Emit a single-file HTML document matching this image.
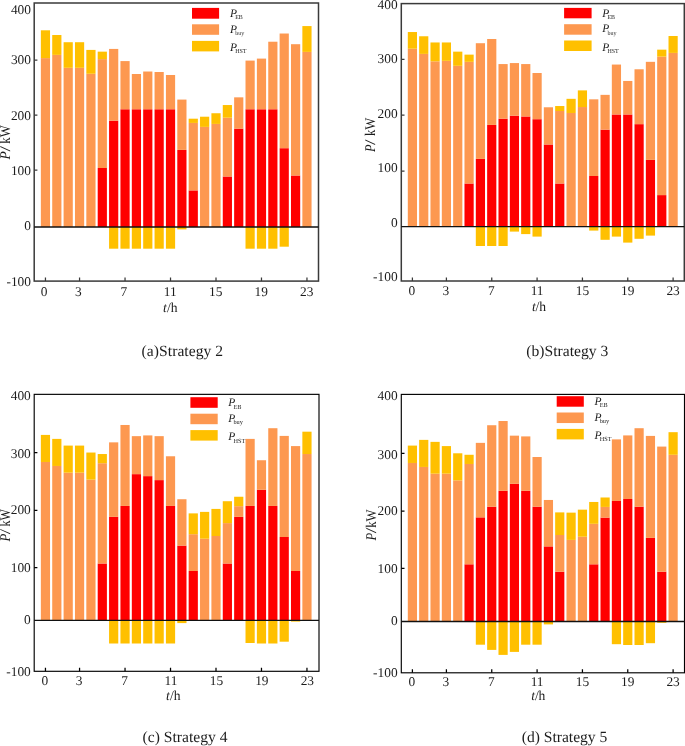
<!DOCTYPE html>
<html><head><meta charset="utf-8"><title>Strategies</title>
<style>
html,body{margin:0;padding:0;background:#fff;}
body{width:685px;height:746px;overflow:hidden;font-family:"Liberation Serif",serif;}
svg{display:block;}
text{font-family:"Liberation Serif",serif;fill:#1c1c1c;text-rendering:geometricPrecision;}
.tk{font-size:13.4px;}
.ax{font-size:13.6px;}
.pk{font-size:14.8px;}
.cap{font-size:15.6px;}
.lg{font-size:11.5px;}
</style></head><body>
<svg width="685" height="746" viewBox="0 0 685 746">
<rect width="685" height="746" fill="#fff"/>
<!-- chart a -->
<g>
<rect x="40.85" y="58.11" width="9.2" height="168.89" fill="#FD9850"/>
<rect x="40.85" y="30.3" width="9.2" height="27.81" fill="#FFC000"/>
<rect x="52.22" y="54.88" width="9.2" height="172.12" fill="#FD9850"/>
<rect x="52.22" y="35.01" width="9.2" height="19.87" fill="#FFC000"/>
<rect x="63.59" y="67.79" width="9.2" height="159.21" fill="#FD9850"/>
<rect x="63.59" y="42.22" width="9.2" height="25.58" fill="#FFC000"/>
<rect x="74.96" y="67.79" width="9.2" height="159.21" fill="#FD9850"/>
<rect x="74.96" y="42.22" width="9.2" height="25.58" fill="#FFC000"/>
<rect x="86.33" y="73.75" width="9.2" height="153.25" fill="#FD9850"/>
<rect x="86.33" y="49.91" width="9.2" height="23.84" fill="#FFC000"/>
<rect x="97.7" y="168" width="9.2" height="59" fill="#FF0000"/>
<rect x="97.7" y="59.1" width="9.2" height="108.9" fill="#FD9850"/>
<rect x="97.7" y="51.65" width="9.2" height="7.45" fill="#FFC000"/>
<rect x="109.07" y="120.69" width="9.2" height="106.31" fill="#FF0000"/>
<rect x="109.07" y="48.92" width="9.2" height="71.77" fill="#FD9850"/>
<rect x="109.07" y="227" width="9.2" height="21.7" fill="#FFC000"/>
<rect x="120.44" y="109.26" width="9.2" height="117.74" fill="#FF0000"/>
<rect x="120.44" y="61.09" width="9.2" height="48.17" fill="#FD9850"/>
<rect x="120.44" y="227" width="9.2" height="21.7" fill="#FFC000"/>
<rect x="131.81" y="109.26" width="9.2" height="117.74" fill="#FF0000"/>
<rect x="131.81" y="74" width="9.2" height="35.26" fill="#FD9850"/>
<rect x="131.81" y="227" width="9.2" height="21.7" fill="#FFC000"/>
<rect x="143.18" y="109.26" width="9.2" height="117.74" fill="#FF0000"/>
<rect x="143.18" y="71.52" width="9.2" height="37.75" fill="#FD9850"/>
<rect x="143.18" y="227" width="9.2" height="21.7" fill="#FFC000"/>
<rect x="154.55" y="109.26" width="9.2" height="117.74" fill="#FF0000"/>
<rect x="154.55" y="72.01" width="9.2" height="37.25" fill="#FD9850"/>
<rect x="154.55" y="227" width="9.2" height="21.7" fill="#FFC000"/>
<rect x="165.92" y="109.26" width="9.2" height="117.74" fill="#FF0000"/>
<rect x="165.92" y="74.99" width="9.2" height="34.27" fill="#FD9850"/>
<rect x="165.92" y="227" width="9.2" height="21.7" fill="#FFC000"/>
<rect x="177.29" y="149.9" width="9.2" height="77.1" fill="#FF0000"/>
<rect x="177.29" y="99.58" width="9.2" height="50.32" fill="#FD9850"/>
<rect x="177.29" y="227" width="9.2" height="2.4" fill="#FFC000"/>
<rect x="188.66" y="190.4" width="9.2" height="36.6" fill="#FF0000"/>
<rect x="188.66" y="122.92" width="9.2" height="67.48" fill="#FD9850"/>
<rect x="188.66" y="118.7" width="9.2" height="4.22" fill="#FFC000"/>
<rect x="200.03" y="126.89" width="9.2" height="100.11" fill="#FD9850"/>
<rect x="200.03" y="116.71" width="9.2" height="10.18" fill="#FFC000"/>
<rect x="211.4" y="123.91" width="9.2" height="103.09" fill="#FD9850"/>
<rect x="211.4" y="113.24" width="9.2" height="10.68" fill="#FFC000"/>
<rect x="222.77" y="176.5" width="9.2" height="50.5" fill="#FF0000"/>
<rect x="222.77" y="117.71" width="9.2" height="58.79" fill="#FD9850"/>
<rect x="222.77" y="105.04" width="9.2" height="12.66" fill="#FFC000"/>
<rect x="234.14" y="128.63" width="9.2" height="98.37" fill="#FF0000"/>
<rect x="234.14" y="97.34" width="9.2" height="31.29" fill="#FD9850"/>
<rect x="245.51" y="109.26" width="9.2" height="117.74" fill="#FF0000"/>
<rect x="245.51" y="60.59" width="9.2" height="48.67" fill="#FD9850"/>
<rect x="245.51" y="227" width="9.2" height="21.7" fill="#FFC000"/>
<rect x="256.88" y="109.26" width="9.2" height="117.74" fill="#FF0000"/>
<rect x="256.88" y="58.6" width="9.2" height="50.66" fill="#FD9850"/>
<rect x="256.88" y="227" width="9.2" height="21.7" fill="#FFC000"/>
<rect x="268.25" y="109.26" width="9.2" height="117.74" fill="#FF0000"/>
<rect x="268.25" y="41.72" width="9.2" height="67.54" fill="#FD9850"/>
<rect x="268.25" y="227" width="9.2" height="21.7" fill="#FFC000"/>
<rect x="279.62" y="148.2" width="9.2" height="78.8" fill="#FF0000"/>
<rect x="279.62" y="33.52" width="9.2" height="114.68" fill="#FD9850"/>
<rect x="279.62" y="227" width="9.2" height="19.7" fill="#FFC000"/>
<rect x="290.99" y="175.5" width="9.2" height="51.5" fill="#FF0000"/>
<rect x="290.99" y="44.2" width="9.2" height="131.3" fill="#FD9850"/>
<rect x="302.36" y="51.9" width="9.2" height="175.1" fill="#FD9850"/>
<rect x="302.36" y="26.07" width="9.2" height="25.83" fill="#FFC000"/>
</g>
<path d="M34.2 60h3.2M34.2 115.1h3.2M34.2 170.2h3.2M45.45 281.1v-3.6M79.56 281.1v-3.6M125.04 281.1v-3.6M170.52 281.1v-3.6M216 281.1v-3.6M261.48 281.1v-3.6M306.96 281.1v-3.6" stroke="#3a3a3a" stroke-width="1.25" fill="none"/>
<rect x="34.2" y="3" width="284.3" height="278.1" fill="none" stroke="#3a3a3a" stroke-width="1.5"/>
<line x1="34.2" y1="227" x2="318.5" y2="227" stroke="#111" stroke-width="1.3"/>
<rect x="192" y="7.9" width="27.1" height="10.8" fill="#FF0000"/>
<rect x="192" y="24.3" width="27.1" height="10.5" fill="#FD9850"/>
<rect x="192" y="40.9" width="27.1" height="10.5" fill="#FFC000"/>
<!-- chart b -->
<g>
<rect x="407.8" y="48.67" width="9.2" height="178.03" fill="#FD9850"/>
<rect x="407.8" y="32.03" width="9.2" height="16.64" fill="#FFC000"/>
<rect x="419.13" y="53.89" width="9.2" height="172.81" fill="#FD9850"/>
<rect x="419.13" y="36.26" width="9.2" height="17.63" fill="#FFC000"/>
<rect x="430.47" y="61.34" width="9.2" height="165.36" fill="#FD9850"/>
<rect x="430.47" y="42.46" width="9.2" height="18.87" fill="#FFC000"/>
<rect x="441.81" y="60.84" width="9.2" height="165.86" fill="#FD9850"/>
<rect x="441.81" y="42.46" width="9.2" height="18.38" fill="#FFC000"/>
<rect x="453.14" y="65.81" width="9.2" height="160.89" fill="#FD9850"/>
<rect x="453.14" y="51.65" width="9.2" height="14.15" fill="#FFC000"/>
<rect x="464.48" y="183.5" width="9.2" height="43.2" fill="#FF0000"/>
<rect x="464.48" y="61.83" width="9.2" height="121.67" fill="#FD9850"/>
<rect x="464.48" y="54.63" width="9.2" height="7.2" fill="#FFC000"/>
<rect x="475.81" y="158.9" width="9.2" height="67.8" fill="#FF0000"/>
<rect x="475.81" y="43.21" width="9.2" height="115.69" fill="#FD9850"/>
<rect x="475.81" y="226.7" width="9.2" height="19.3" fill="#FFC000"/>
<rect x="487.14" y="124.91" width="9.2" height="101.79" fill="#FF0000"/>
<rect x="487.14" y="38.99" width="9.2" height="85.92" fill="#FD9850"/>
<rect x="487.14" y="226.7" width="9.2" height="19.3" fill="#FFC000"/>
<rect x="498.48" y="118.7" width="9.2" height="108" fill="#FF0000"/>
<rect x="498.48" y="64.07" width="9.2" height="54.63" fill="#FD9850"/>
<rect x="498.48" y="226.7" width="9.2" height="19.3" fill="#FFC000"/>
<rect x="509.82" y="115.72" width="9.2" height="110.98" fill="#FF0000"/>
<rect x="509.82" y="63.07" width="9.2" height="52.64" fill="#FD9850"/>
<rect x="509.82" y="226.7" width="9.2" height="4.9" fill="#FFC000"/>
<rect x="521.15" y="116.46" width="9.2" height="110.24" fill="#FF0000"/>
<rect x="521.15" y="64.07" width="9.2" height="52.4" fill="#FD9850"/>
<rect x="521.15" y="226.7" width="9.2" height="7.4" fill="#FFC000"/>
<rect x="532.49" y="119.2" width="9.2" height="107.5" fill="#FF0000"/>
<rect x="532.49" y="73.01" width="9.2" height="46.19" fill="#FD9850"/>
<rect x="532.49" y="226.7" width="9.2" height="9.9" fill="#FFC000"/>
<rect x="543.82" y="144.5" width="9.2" height="82.2" fill="#FF0000"/>
<rect x="543.82" y="107.28" width="9.2" height="37.22" fill="#FD9850"/>
<rect x="555.15" y="183.5" width="9.2" height="43.2" fill="#FF0000"/>
<rect x="555.15" y="111" width="9.2" height="72.5" fill="#FD9850"/>
<rect x="555.15" y="106.03" width="9.2" height="4.97" fill="#FFC000"/>
<rect x="566.49" y="112.99" width="9.2" height="113.71" fill="#FD9850"/>
<rect x="566.49" y="98.83" width="9.2" height="14.15" fill="#FFC000"/>
<rect x="577.83" y="107.03" width="9.2" height="119.67" fill="#FD9850"/>
<rect x="577.83" y="90.39" width="9.2" height="16.64" fill="#FFC000"/>
<rect x="589.16" y="176" width="9.2" height="50.7" fill="#FF0000"/>
<rect x="589.16" y="99.33" width="9.2" height="76.67" fill="#FD9850"/>
<rect x="589.16" y="226.7" width="9.2" height="3.9" fill="#FFC000"/>
<rect x="600.5" y="129.63" width="9.2" height="97.07" fill="#FF0000"/>
<rect x="600.5" y="94.86" width="9.2" height="34.77" fill="#FD9850"/>
<rect x="600.5" y="226.7" width="9.2" height="13.1" fill="#FFC000"/>
<rect x="611.83" y="114.48" width="9.2" height="112.22" fill="#FF0000"/>
<rect x="611.83" y="64.56" width="9.2" height="49.91" fill="#FD9850"/>
<rect x="611.83" y="226.7" width="9.2" height="9.9" fill="#FFC000"/>
<rect x="623.16" y="114.48" width="9.2" height="112.22" fill="#FF0000"/>
<rect x="623.16" y="80.95" width="9.2" height="33.52" fill="#FD9850"/>
<rect x="623.16" y="226.7" width="9.2" height="15.9" fill="#FFC000"/>
<rect x="634.5" y="124.16" width="9.2" height="102.54" fill="#FF0000"/>
<rect x="634.5" y="69.28" width="9.2" height="54.88" fill="#FD9850"/>
<rect x="634.5" y="226.7" width="9.2" height="12.1" fill="#FFC000"/>
<rect x="645.84" y="159.9" width="9.2" height="66.8" fill="#FF0000"/>
<rect x="645.84" y="61.83" width="9.2" height="98.07" fill="#FD9850"/>
<rect x="645.84" y="226.7" width="9.2" height="8.9" fill="#FFC000"/>
<rect x="657.17" y="195.1" width="9.2" height="31.6" fill="#FF0000"/>
<rect x="657.17" y="56.62" width="9.2" height="138.48" fill="#FD9850"/>
<rect x="657.17" y="49.66" width="9.2" height="6.95" fill="#FFC000"/>
<rect x="668.51" y="52.89" width="9.2" height="173.81" fill="#FD9850"/>
<rect x="668.51" y="36.01" width="9.2" height="16.89" fill="#FFC000"/>
</g>
<path d="M401.3 59.4h3.2M401.3 115.2h3.2M401.3 171h3.2M412.4 281v-3.6M446.41 281v-3.6M491.75 281v-3.6M537.09 281v-3.6M582.43 281v-3.6M627.76 281v-3.6M673.11 281v-3.6" stroke="#3a3a3a" stroke-width="1.25" fill="none"/>
<rect x="401.3" y="3.6" width="283" height="277.4" fill="none" stroke="#3a3a3a" stroke-width="1.5"/>
<line x1="401.3" y1="226.7" x2="684.3" y2="226.7" stroke="#111" stroke-width="1.3"/>
<rect x="564.1" y="7.9" width="27.5" height="10.4" fill="#FF0000"/>
<rect x="564.1" y="24.2" width="27.5" height="10.5" fill="#FD9850"/>
<rect x="564.1" y="40.5" width="27.5" height="10.5" fill="#FFC000"/>
<!-- chart c -->
<g>
<rect x="40.85" y="461.98" width="9.2" height="158.42" fill="#FD9850"/>
<rect x="40.85" y="434.91" width="9.2" height="27.07" fill="#FFC000"/>
<rect x="52.22" y="465.95" width="9.2" height="154.45" fill="#FD9850"/>
<rect x="52.22" y="438.89" width="9.2" height="27.07" fill="#FFC000"/>
<rect x="63.59" y="472.66" width="9.2" height="147.74" fill="#FD9850"/>
<rect x="63.59" y="445.59" width="9.2" height="27.07" fill="#FFC000"/>
<rect x="74.96" y="472.66" width="9.2" height="147.74" fill="#FD9850"/>
<rect x="74.96" y="445.59" width="9.2" height="27.07" fill="#FFC000"/>
<rect x="86.33" y="479.61" width="9.2" height="140.79" fill="#FD9850"/>
<rect x="86.33" y="452.54" width="9.2" height="27.07" fill="#FFC000"/>
<rect x="97.7" y="563.5" width="9.2" height="56.9" fill="#FF0000"/>
<rect x="97.7" y="463.22" width="9.2" height="100.28" fill="#FD9850"/>
<rect x="97.7" y="454.03" width="9.2" height="9.19" fill="#FFC000"/>
<rect x="109.07" y="516.86" width="9.2" height="103.54" fill="#FF0000"/>
<rect x="109.07" y="442.36" width="9.2" height="74.5" fill="#FD9850"/>
<rect x="109.07" y="620.4" width="9.2" height="23.1" fill="#FFC000"/>
<rect x="120.44" y="505.93" width="9.2" height="114.47" fill="#FF0000"/>
<rect x="120.44" y="424.98" width="9.2" height="80.95" fill="#FD9850"/>
<rect x="120.44" y="620.4" width="9.2" height="23.1" fill="#FFC000"/>
<rect x="131.81" y="474.15" width="9.2" height="146.25" fill="#FF0000"/>
<rect x="131.81" y="436.15" width="9.2" height="37.99" fill="#FD9850"/>
<rect x="131.81" y="620.4" width="9.2" height="23.1" fill="#FFC000"/>
<rect x="143.18" y="476.13" width="9.2" height="144.27" fill="#FF0000"/>
<rect x="143.18" y="435.41" width="9.2" height="40.73" fill="#FD9850"/>
<rect x="143.18" y="620.4" width="9.2" height="23.1" fill="#FFC000"/>
<rect x="154.55" y="480.11" width="9.2" height="140.29" fill="#FF0000"/>
<rect x="154.55" y="436.15" width="9.2" height="43.95" fill="#FD9850"/>
<rect x="154.55" y="620.4" width="9.2" height="23.1" fill="#FFC000"/>
<rect x="165.92" y="505.93" width="9.2" height="114.47" fill="#FF0000"/>
<rect x="165.92" y="456.27" width="9.2" height="49.66" fill="#FD9850"/>
<rect x="165.92" y="620.4" width="9.2" height="23.1" fill="#FFC000"/>
<rect x="177.29" y="545.6" width="9.2" height="74.8" fill="#FF0000"/>
<rect x="177.29" y="499.23" width="9.2" height="46.37" fill="#FD9850"/>
<rect x="177.29" y="620.4" width="9.2" height="2.7" fill="#FFC000"/>
<rect x="188.66" y="571" width="9.2" height="49.4" fill="#FF0000"/>
<rect x="188.66" y="534.2" width="9.2" height="36.8" fill="#FD9850"/>
<rect x="188.66" y="513.38" width="9.2" height="20.82" fill="#FFC000"/>
<rect x="200.03" y="538.7" width="9.2" height="81.7" fill="#FD9850"/>
<rect x="200.03" y="511.89" width="9.2" height="26.81" fill="#FFC000"/>
<rect x="211.4" y="536" width="9.2" height="84.4" fill="#FD9850"/>
<rect x="211.4" y="508.91" width="9.2" height="27.09" fill="#FFC000"/>
<rect x="222.77" y="563.5" width="9.2" height="56.9" fill="#FF0000"/>
<rect x="222.77" y="523.1" width="9.2" height="40.4" fill="#FD9850"/>
<rect x="222.77" y="501.22" width="9.2" height="21.88" fill="#FFC000"/>
<rect x="234.14" y="516.86" width="9.2" height="103.54" fill="#FF0000"/>
<rect x="234.14" y="506.18" width="9.2" height="10.68" fill="#FD9850"/>
<rect x="234.14" y="496.75" width="9.2" height="9.44" fill="#FFC000"/>
<rect x="245.51" y="505.93" width="9.2" height="114.47" fill="#FF0000"/>
<rect x="245.51" y="438.89" width="9.2" height="67.05" fill="#FD9850"/>
<rect x="245.51" y="620.4" width="9.2" height="22.6" fill="#FFC000"/>
<rect x="256.88" y="489.79" width="9.2" height="130.61" fill="#FF0000"/>
<rect x="256.88" y="460.24" width="9.2" height="29.55" fill="#FD9850"/>
<rect x="256.88" y="620.4" width="9.2" height="23.1" fill="#FFC000"/>
<rect x="268.25" y="505.93" width="9.2" height="114.47" fill="#FF0000"/>
<rect x="268.25" y="428.21" width="9.2" height="77.73" fill="#FD9850"/>
<rect x="268.25" y="620.4" width="9.2" height="23.1" fill="#FFC000"/>
<rect x="279.62" y="537" width="9.2" height="83.4" fill="#FF0000"/>
<rect x="279.62" y="435.91" width="9.2" height="101.09" fill="#FD9850"/>
<rect x="279.62" y="620.4" width="9.2" height="21.3" fill="#FFC000"/>
<rect x="290.99" y="571" width="9.2" height="49.4" fill="#FF0000"/>
<rect x="290.99" y="446.09" width="9.2" height="124.91" fill="#FD9850"/>
<rect x="290.99" y="620.4" width="9.2" height="1.2" fill="#FFC000"/>
<rect x="302.36" y="454.03" width="9.2" height="166.37" fill="#FD9850"/>
<rect x="302.36" y="431.68" width="9.2" height="22.35" fill="#FFC000"/>
</g>
<path d="M34.2 452.7h3.2M34.2 510.3h3.2M34.2 567.5h3.2M45.45 671.3v-3.6M79.56 671.3v-3.6M125.04 671.3v-3.6M170.52 671.3v-3.6M216 671.3v-3.6M261.48 671.3v-3.6M306.96 671.3v-3.6" stroke="#000000" stroke-width="1.25" fill="none"/>
<rect x="34.2" y="394.35" width="284.8" height="276.95" fill="none" stroke="#000000" stroke-width="1.15"/>
<line x1="34.2" y1="620.4" x2="319" y2="620.4" stroke="#111" stroke-width="1.3"/>
<rect x="190.4" y="397.2" width="27.3" height="10.6" fill="#FF0000"/>
<rect x="190.4" y="413.7" width="27.3" height="10.5" fill="#FD9850"/>
<rect x="190.4" y="430.1" width="27.3" height="10.5" fill="#FFC000"/>
<!-- chart d -->
<g>
<rect x="407.8" y="462.97" width="9.2" height="158.53" fill="#FD9850"/>
<rect x="407.8" y="445.59" width="9.2" height="17.38" fill="#FFC000"/>
<rect x="419.13" y="466.95" width="9.2" height="154.55" fill="#FD9850"/>
<rect x="419.13" y="439.88" width="9.2" height="27.07" fill="#FFC000"/>
<rect x="430.47" y="473.65" width="9.2" height="147.85" fill="#FD9850"/>
<rect x="430.47" y="441.87" width="9.2" height="31.79" fill="#FFC000"/>
<rect x="441.81" y="473.65" width="9.2" height="147.85" fill="#FD9850"/>
<rect x="441.81" y="446.09" width="9.2" height="27.56" fill="#FFC000"/>
<rect x="453.14" y="480.36" width="9.2" height="141.14" fill="#FD9850"/>
<rect x="453.14" y="453.29" width="9.2" height="27.07" fill="#FFC000"/>
<rect x="464.48" y="564.3" width="9.2" height="57.2" fill="#FF0000"/>
<rect x="464.48" y="463.97" width="9.2" height="100.33" fill="#FD9850"/>
<rect x="464.48" y="454.78" width="9.2" height="9.19" fill="#FFC000"/>
<rect x="475.81" y="517.36" width="9.2" height="104.14" fill="#FF0000"/>
<rect x="475.81" y="442.86" width="9.2" height="74.5" fill="#FD9850"/>
<rect x="475.81" y="621.5" width="9.2" height="23.2" fill="#FFC000"/>
<rect x="487.14" y="506.68" width="9.2" height="114.82" fill="#FF0000"/>
<rect x="487.14" y="425.23" width="9.2" height="81.45" fill="#FD9850"/>
<rect x="487.14" y="621.5" width="9.2" height="28.4" fill="#FFC000"/>
<rect x="498.48" y="490.79" width="9.2" height="130.71" fill="#FF0000"/>
<rect x="498.48" y="421.01" width="9.2" height="69.78" fill="#FD9850"/>
<rect x="498.48" y="621.5" width="9.2" height="33.4" fill="#FFC000"/>
<rect x="509.82" y="483.83" width="9.2" height="137.67" fill="#FF0000"/>
<rect x="509.82" y="435.66" width="9.2" height="48.17" fill="#FD9850"/>
<rect x="509.82" y="621.5" width="9.2" height="30.4" fill="#FFC000"/>
<rect x="521.15" y="490.79" width="9.2" height="130.71" fill="#FF0000"/>
<rect x="521.15" y="436.4" width="9.2" height="54.38" fill="#FD9850"/>
<rect x="521.15" y="621.5" width="9.2" height="23.2" fill="#FFC000"/>
<rect x="532.49" y="506.68" width="9.2" height="114.82" fill="#FF0000"/>
<rect x="532.49" y="457.01" width="9.2" height="49.66" fill="#FD9850"/>
<rect x="532.49" y="621.5" width="9.2" height="23.2" fill="#FFC000"/>
<rect x="543.82" y="546.4" width="9.2" height="75.1" fill="#FF0000"/>
<rect x="543.82" y="499.97" width="9.2" height="46.43" fill="#FD9850"/>
<rect x="543.82" y="621.5" width="9.2" height="2.9" fill="#FFC000"/>
<rect x="555.15" y="571.7" width="9.2" height="49.8" fill="#FF0000"/>
<rect x="555.15" y="535" width="9.2" height="36.7" fill="#FD9850"/>
<rect x="555.15" y="512.39" width="9.2" height="22.61" fill="#FFC000"/>
<rect x="566.49" y="539.9" width="9.2" height="81.6" fill="#FD9850"/>
<rect x="566.49" y="512.64" width="9.2" height="27.26" fill="#FFC000"/>
<rect x="577.83" y="536.7" width="9.2" height="84.8" fill="#FD9850"/>
<rect x="577.83" y="509.66" width="9.2" height="27.04" fill="#FFC000"/>
<rect x="589.16" y="564.3" width="9.2" height="57.2" fill="#FF0000"/>
<rect x="589.16" y="523.81" width="9.2" height="40.49" fill="#FD9850"/>
<rect x="589.16" y="501.96" width="9.2" height="21.85" fill="#FFC000"/>
<rect x="600.5" y="517.6" width="9.2" height="103.9" fill="#FF0000"/>
<rect x="600.5" y="506.93" width="9.2" height="10.68" fill="#FD9850"/>
<rect x="600.5" y="497.49" width="9.2" height="9.44" fill="#FFC000"/>
<rect x="611.83" y="500.97" width="9.2" height="120.53" fill="#FF0000"/>
<rect x="611.83" y="439.38" width="9.2" height="61.58" fill="#FD9850"/>
<rect x="611.83" y="621.5" width="9.2" height="22.7" fill="#FFC000"/>
<rect x="623.16" y="498.98" width="9.2" height="122.52" fill="#FF0000"/>
<rect x="623.16" y="435.41" width="9.2" height="63.57" fill="#FD9850"/>
<rect x="623.16" y="621.5" width="9.2" height="23.5" fill="#FFC000"/>
<rect x="634.5" y="506.68" width="9.2" height="114.82" fill="#FF0000"/>
<rect x="634.5" y="428.21" width="9.2" height="78.47" fill="#FD9850"/>
<rect x="634.5" y="621.5" width="9.2" height="23.5" fill="#FFC000"/>
<rect x="645.84" y="537.9" width="9.2" height="83.6" fill="#FF0000"/>
<rect x="645.84" y="435.91" width="9.2" height="101.99" fill="#FD9850"/>
<rect x="645.84" y="621.5" width="9.2" height="21.7" fill="#FFC000"/>
<rect x="657.17" y="571.7" width="9.2" height="49.8" fill="#FF0000"/>
<rect x="657.17" y="446.58" width="9.2" height="125.12" fill="#FD9850"/>
<rect x="657.17" y="621.5" width="9.2" height="1.3" fill="#FFC000"/>
<rect x="668.51" y="454.78" width="9.2" height="166.72" fill="#FD9850"/>
<rect x="668.51" y="432.18" width="9.2" height="22.6" fill="#FFC000"/>
</g>
<path d="M401.3 453.4h3.2M401.3 511h3.2M401.3 568.4h3.2M412.4 672.8v-3.6M446.41 672.8v-3.6M491.75 672.8v-3.6M537.09 672.8v-3.6M582.43 672.8v-3.6M627.76 672.8v-3.6M673.11 672.8v-3.6" stroke="#000000" stroke-width="1.25" fill="none"/>
<rect x="401.3" y="394.4" width="283.2" height="278.4" fill="none" stroke="#000000" stroke-width="1.15"/>
<line x1="401.3" y1="621.5" x2="684.5" y2="621.5" stroke="#111" stroke-width="1.3"/>
<rect x="556.7" y="396.2" width="27.1" height="10.5" fill="#FF0000"/>
<rect x="556.7" y="412.5" width="27.1" height="10.55" fill="#FD9850"/>
<rect x="556.7" y="428.9" width="27.1" height="10.5" fill="#FFC000"/>
<g style="will-change:transform;filter:grayscale(1)">
<text x="31" y="13.7" text-anchor="end" class="tk">400</text>
<text x="31" y="64.4" text-anchor="end" class="tk">300</text>
<text x="31" y="119.7" text-anchor="end" class="tk">200</text>
<text x="31" y="175.2" text-anchor="end" class="tk">100</text>
<text x="31" y="229.8" text-anchor="end" class="tk">0</text>
<text x="31" y="286" text-anchor="end" class="tk">-100</text>
<text x="44.15" y="296.1" text-anchor="middle" class="tk">0</text>
<text x="78.26" y="296.1" text-anchor="middle" class="tk">3</text>
<text x="123.74" y="296.1" text-anchor="middle" class="tk">7</text>
<text x="170.22" y="296.1" text-anchor="middle" class="tk">11</text>
<text x="215.7" y="296.1" text-anchor="middle" class="tk">15</text>
<text x="261.18" y="296.1" text-anchor="middle" class="tk">19</text>
<text x="306.66" y="296.1" text-anchor="middle" class="tk">23</text>
<text x="163.1" y="311.5" class="ax" textLength="14.5"><tspan font-style="italic">t</tspan>/h</text>
<text x="141.6" y="356.4" class="cap" textLength="81.5">(a)Strategy 2</text>
<text transform="translate(9.6 159.4) rotate(-90)" class="pk" font-style="italic" textLength="8.3" lengthAdjust="spacingAndGlyphs">P</text>
<text transform="translate(9.6 151.6) rotate(-90)" class="pk" textLength="5.5" lengthAdjust="spacingAndGlyphs">/</text>
<text transform="translate(9.6 143.7) rotate(-90)" class="pk" textLength="18.5" lengthAdjust="spacingAndGlyphs">kW</text>
<text x="230" y="16.9" class="lg"><tspan font-style="italic">P</tspan><tspan class="sb" font-size="6.0" dy="2.5" dx="-1.9">EB</tspan></text>
<text x="230" y="32.5" class="lg"><tspan font-style="italic">P</tspan><tspan class="sb" font-size="6.0" dy="2.5" dx="-1.9">buy</tspan></text>
<text x="230" y="50.8" class="lg"><tspan font-style="italic">P</tspan><tspan class="sb" font-size="6.0" dy="2.5" dx="-1.9">HST</tspan></text>
<text x="397.6" y="8.9" text-anchor="end" class="tk">400</text>
<text x="397.6" y="63.2" text-anchor="end" class="tk">300</text>
<text x="397.6" y="117.8" text-anchor="end" class="tk">200</text>
<text x="397.6" y="172.1" text-anchor="end" class="tk">100</text>
<text x="397.6" y="226.5" text-anchor="end" class="tk">0</text>
<text x="397.6" y="281.4" text-anchor="end" class="tk">-100</text>
<text x="411.9" y="294.8" text-anchor="middle" class="tk">0</text>
<text x="445.91" y="294.8" text-anchor="middle" class="tk">3</text>
<text x="491.25" y="294.8" text-anchor="middle" class="tk">7</text>
<text x="537.09" y="294.8" text-anchor="middle" class="tk">11</text>
<text x="582.43" y="294.8" text-anchor="middle" class="tk">15</text>
<text x="627.76" y="294.8" text-anchor="middle" class="tk">19</text>
<text x="673.11" y="294.8" text-anchor="middle" class="tk">23</text>
<text x="531.9" y="311.3" class="ax" textLength="14.1"><tspan font-style="italic">t</tspan>/h</text>
<text x="526.3" y="355.5" class="cap" textLength="81.9">(b)Strategy 3</text>
<text transform="translate(375.1 151.9) rotate(-90)" class="pk" font-style="italic" textLength="7.6" lengthAdjust="spacingAndGlyphs">P</text>
<text transform="translate(375.1 145) rotate(-90)" class="pk" textLength="5.6" lengthAdjust="spacingAndGlyphs">/</text>
<text transform="translate(375.1 136) rotate(-90)" class="pk" textLength="18.3" lengthAdjust="spacingAndGlyphs">kW</text>
<text x="602.3" y="16.9" class="lg"><tspan font-style="italic">P</tspan><tspan class="sb" font-size="6.0" dy="2.5" dx="-1.9">EB</tspan></text>
<text x="602.3" y="32.2" class="lg"><tspan font-style="italic">P</tspan><tspan class="sb" font-size="6.0" dy="2.5" dx="-1.9">buy</tspan></text>
<text x="602.3" y="50.8" class="lg"><tspan font-style="italic">P</tspan><tspan class="sb" font-size="6.0" dy="2.5" dx="-1.9">HST</tspan></text>
<text x="30.8" y="400.4" text-anchor="end" class="tk">400</text>
<text x="30.8" y="457.7" text-anchor="end" class="tk">300</text>
<text x="30.8" y="514.4" text-anchor="end" class="tk">200</text>
<text x="30.8" y="571.7" text-anchor="end" class="tk">100</text>
<text x="30.8" y="624.1" text-anchor="end" class="tk">0</text>
<text x="30.8" y="675.5" text-anchor="end" class="tk">-100</text>
<text x="44.95" y="685.3" text-anchor="middle" class="tk">0</text>
<text x="79.06" y="685.3" text-anchor="middle" class="tk">3</text>
<text x="124.54" y="685.3" text-anchor="middle" class="tk">7</text>
<text x="170.92" y="685.3" text-anchor="middle" class="tk">11</text>
<text x="216.4" y="685.3" text-anchor="middle" class="tk">15</text>
<text x="261.88" y="685.3" text-anchor="middle" class="tk">19</text>
<text x="307.36" y="685.3" text-anchor="middle" class="tk">23</text>
<text x="166.1" y="700" class="ax" textLength="14.5"><tspan font-style="italic">t</tspan>/h</text>
<text x="142.5" y="741.8" class="cap" textLength="85.1">(c) Strategy 4</text>
<text transform="translate(9.6 541.5) rotate(-90)" class="pk" font-style="italic" textLength="7.9" lengthAdjust="spacingAndGlyphs">P</text>
<text transform="translate(9.6 534.2) rotate(-90)" class="pk" textLength="5.3" lengthAdjust="spacingAndGlyphs">/</text>
<text transform="translate(9.6 526.6) rotate(-90)" class="pk" textLength="17.4" lengthAdjust="spacingAndGlyphs">kW</text>
<text x="228.3" y="406.1" class="lg"><tspan font-style="italic">P</tspan><tspan class="sb" font-size="6.3" dy="2.5" dx="-1.9">EB</tspan></text>
<text x="228.3" y="421.5" class="lg"><tspan font-style="italic">P</tspan><tspan class="sb" font-size="6.3" dy="2.5" dx="-1.9">buy</tspan></text>
<text x="228.3" y="440" class="lg"><tspan font-style="italic">P</tspan><tspan class="sb" font-size="6.3" dy="2.5" dx="-1.9">HST</tspan></text>
<text x="397.6" y="400.2" text-anchor="end" class="tk">400</text>
<text x="397.6" y="458.5" text-anchor="end" class="tk">300</text>
<text x="397.6" y="515.1" text-anchor="end" class="tk">200</text>
<text x="397.6" y="572.7" text-anchor="end" class="tk">100</text>
<text x="397.6" y="625.1" text-anchor="end" class="tk">0</text>
<text x="397.6" y="676.8" text-anchor="end" class="tk">-100</text>
<text x="411.9" y="686.3" text-anchor="middle" class="tk">0</text>
<text x="445.91" y="686.3" text-anchor="middle" class="tk">3</text>
<text x="491.25" y="686.3" text-anchor="middle" class="tk">7</text>
<text x="537.09" y="686.3" text-anchor="middle" class="tk">11</text>
<text x="582.43" y="686.3" text-anchor="middle" class="tk">15</text>
<text x="627.76" y="686.3" text-anchor="middle" class="tk">19</text>
<text x="673.11" y="686.3" text-anchor="middle" class="tk">23</text>
<text x="531.3" y="700" class="ax" textLength="14.1"><tspan font-style="italic">t</tspan>/h</text>
<text x="521.7" y="741.8" class="cap" textLength="85.6">(d) Strategy 5</text>
<text transform="translate(375.7 540.4) rotate(-90)" class="pk" font-style="italic" textLength="7.7" lengthAdjust="spacingAndGlyphs">P</text>
<text transform="translate(375.7 533.3) rotate(-90)" class="pk" textLength="5.6" lengthAdjust="spacingAndGlyphs">/</text>
<text transform="translate(375.7 527.8) rotate(-90)" class="pk" textLength="18.3" lengthAdjust="spacingAndGlyphs">kW</text>
<text x="594.5" y="404.95" class="lg"><tspan font-style="italic">P</tspan><tspan class="sb" font-size="6.3" dy="2.5" dx="-1.9">EB</tspan></text>
<text x="594.5" y="420.6" class="lg"><tspan font-style="italic">P</tspan><tspan class="sb" font-size="6.3" dy="2.5" dx="-1.9">buy</tspan></text>
<text x="594.5" y="438.8" class="lg"><tspan font-style="italic">P</tspan><tspan class="sb" font-size="6.3" dy="2.5" dx="-1.9">HST</tspan></text>
</g>
</svg>
</body></html>
